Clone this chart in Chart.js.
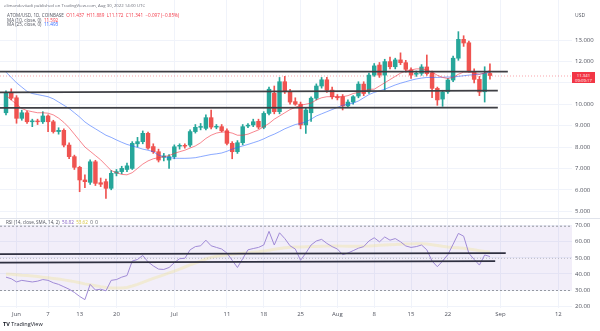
<!DOCTYPE html>
<html>
<head>
<meta charset="utf-8">
<script src="https://cdn.jsdelivr.net/npm/chart.js@4.4.0/dist/chart.umd.min.js"></script>
<style>
  body { margin: 0; width: 600px; height: 331px; background: #fff; overflow: hidden; position: relative; font-family: "Open Sans", Roboto, sans-serif; }
  canvas { position: absolute; left: 0; }
  #main { top: 0; }
  #rsi { top: 218px; }
  .t { position: absolute; white-space: nowrap; color: #50535e; line-height: 1; }
  .red { color: #f23645; }
  .blue { color: #2962ff; }
  #tag { position: absolute; left: 572px; top: 72px; width: 23px; height: 11px; background: #f23645; color: #fff; font-size: 4.3px; line-height: 5px; text-align: center; padding-top: 0.5px; box-sizing: border-box; }
</style>
</head>
<body>
<canvas id="main" width="600" height="218"></canvas>
<canvas id="rsi" width="600" height="113"></canvas>

<div class="t" style="left:4px;top:3px;font-size:4.3px;color:#6a6d78">elimandeviiadi published on TradingView.com, Aug 30, 2022 14:00 UTC</div>
<div class="t" style="left:7px;top:12.5px;font-size:4.6px">ATOM/USD, 1D, COINBASE&nbsp; <span class="red">O11.437&nbsp; H11.889&nbsp; L11.172&nbsp; C11.341&nbsp; −0.097 (−0.85%)</span></div>
<div class="t" style="left:7px;top:17.8px;font-size:4.6px">MA (10, close, 0)&nbsp; <span class="red">11.592</span></div>
<div class="t" style="left:7px;top:22.4px;font-size:4.6px">MA (25, close, 0)&nbsp; <span class="blue">11.493</span></div>
<div class="t" style="left:575px;top:12.5px;font-size:5px">USD</div>
<div id="tag">11.341<br>09:09:17</div>
<div class="t" style="left:6px;top:219.5px;font-size:4.6px">RSI (14, close, SMA, 14, 2)&nbsp; <span style="color:#7e57c2">50.82</span>&nbsp; <span style="color:#d6c23a">53.62</span>&nbsp; 0&nbsp; 0</div>
<div class="t" style="left:3px;top:322px;font-size:5.5px;color:#131722"><b>TV</b> TradingView</div>

<script>
const open = [9.60, 10.51, 10.30, 9.34, 9.60, 9.18, 9.20, 9.18, 9.45, 9.18,
  8.72, 8.78, 8.09, 7.55, 7.05, 6.46, 6.35, 7.31, 6.33, 6.38,
  6.07, 6.77, 6.85, 6.95, 7.00, 8.15, 8.25, 8.64, 8.02, 7.78,
  7.52, 7.39, 7.55, 8.04, 8.07, 8.09, 8.72, 8.92, 8.87, 9.37,
  8.93, 8.95, 8.76, 8.17, 7.78, 8.20, 8.98, 9.03, 9.20, 8.92,
  9.57, 10.51, 9.65, 11.05, 10.58, 10.12, 10.00, 9.03, 9.60, 10.28,
  10.85, 11.14, 10.66, 10.35, 10.35, 9.92, 10.10, 10.38, 10.94, 10.58,
  11.36, 11.83, 11.36, 11.99, 11.75, 12.07, 11.94, 11.60, 11.40, 11.44,
  11.74, 11.47, 10.74, 10.24, 10.58, 11.13, 12.15, 13.03, 12.87, 11.52,
  11.16, 10.58, 11.437];
const high = [10.62, 10.72, 10.40, 9.72, 9.68, 9.30, 9.30, 9.65, 9.50, 9.25,
  8.90, 8.85, 8.20, 7.62, 7.10, 6.70, 7.40, 7.38, 6.55, 6.50,
  6.90, 6.95, 7.10, 7.25, 8.25, 8.45, 8.75, 8.70, 8.15, 7.90,
  7.70, 7.65, 8.10, 8.15, 8.15, 8.80, 9.05, 9.10, 9.50, 9.73,
  9.05, 9.05, 8.85, 8.25, 8.30, 9.05, 9.10, 9.30, 9.30, 9.65,
  10.80, 10.85, 11.25, 11.30, 10.70, 10.30, 10.10, 9.85, 10.35, 10.95,
  11.25, 11.25, 10.80, 10.45, 10.45, 10.20, 10.40, 11.05, 11.05, 11.45,
  11.90, 11.95, 12.10, 12.20, 12.15, 12.40, 12.05, 11.70, 11.55, 11.85,
  12.30, 11.55, 10.80, 10.65, 11.20, 12.25, 13.39, 13.20, 12.95, 11.65,
  11.30, 11.75, 11.889];
const low = [9.50, 10.20, 9.11, 9.25, 9.10, 8.95, 9.05, 9.10, 8.72, 8.65,
  8.60, 8.00, 7.45, 6.95, 5.91, 6.10, 6.25, 6.20, 6.15, 5.60,
  6.00, 6.65, 6.75, 6.85, 6.95, 8.00, 8.15, 7.90, 7.70, 7.30,
  7.35, 7.00, 7.45, 7.90, 7.95, 8.00, 8.65, 8.80, 8.80, 8.85,
  8.85, 8.70, 8.10, 7.45, 7.70, 8.10, 8.90, 8.95, 8.85, 8.85,
  9.50, 9.55, 9.55, 10.50, 10.00, 9.95, 8.85, 8.64, 9.20, 10.20,
  10.75, 10.55, 10.25, 10.20, 9.73, 9.85, 10.00, 10.30, 10.40, 10.50,
  11.30, 11.25, 10.66, 11.65, 11.65, 11.85, 11.50, 11.20, 11.30, 11.35,
  11.35, 10.30, 9.95, 9.90, 10.50, 11.05, 12.05, 12.70, 11.50, 11.00,
  10.40, 10.10, 11.172];
const close = [10.54, 10.28, 9.34, 9.60, 9.18, 9.22, 9.18, 9.45, 9.18, 8.72,
  8.78, 8.09, 7.55, 7.05, 6.46, 6.38, 7.31, 6.30, 6.26, 6.07,
  6.77, 6.85, 7.00, 7.12, 8.17, 8.25, 8.64, 7.95, 7.78, 7.39,
  7.58, 7.55, 8.01, 8.07, 8.04, 8.72, 8.92, 8.96, 9.37, 8.93,
  8.96, 8.76, 8.17, 7.78, 8.20, 8.95, 9.02, 9.18, 8.93, 9.57,
  10.70, 9.65, 11.05, 10.58, 10.10, 10.00, 9.03, 9.73, 10.28, 10.85,
  11.14, 10.65, 10.35, 10.30, 9.92, 10.10, 10.35, 10.94, 10.50, 11.36,
  11.79, 11.36, 11.99, 11.75, 12.07, 11.94, 11.63, 11.36, 11.45, 11.74,
  11.43, 10.74, 10.20, 10.57, 11.13, 12.15, 13.03, 12.86, 11.57, 11.16,
  10.57, 11.44, 11.341];
const ma10 = [10.40, 10.20, 10.00, 9.80, 9.70, 9.65, 9.60, 9.60, 9.58, 9.50,
  9.35, 9.15, 8.90, 8.60, 8.30, 8.00, 7.80, 7.60, 7.40, 7.15,
  6.90, 6.80, 6.72, 6.70, 6.80, 7.00, 7.20, 7.35, 7.45, 7.50,
  7.55, 7.60, 7.70, 7.78, 7.85, 7.95, 8.05, 8.20, 8.40, 8.55,
  8.65, 8.70, 8.70, 8.65, 8.55, 8.55, 8.60, 8.70, 8.80, 8.95,
  9.10, 9.30, 9.45, 9.60, 9.75, 9.85, 9.95, 10.00, 10.05, 10.20,
  10.30, 10.35, 10.35, 10.35, 10.35, 10.40, 10.50, 10.55, 10.60, 10.70,
  10.70, 10.85, 11.00, 11.15, 11.30, 11.45, 11.55, 11.60, 11.65, 11.65,
  11.60, 11.50, 11.35, 11.25, 11.20, 11.25, 11.40, 11.50, 11.50, 11.45,
  11.40, 11.45, 11.59];
const ma25 = [11.50, 11.25, 11.00, 10.80, 10.60, 10.50, 10.45, 10.40, 10.35, 10.25,
  10.10, 9.95, 9.80, 9.60, 9.40, 9.17, 9.00, 8.85, 8.70, 8.55,
  8.45, 8.33, 8.22, 8.12, 8.05, 7.98, 7.90, 7.85, 7.78, 7.62,
  7.55, 7.50, 7.48, 7.47, 7.47, 7.48, 7.50, 7.55, 7.60, 7.65,
  7.68, 7.72, 7.80, 7.90, 7.98, 8.05, 8.12, 8.20, 8.28, 8.38,
  8.50, 8.60, 8.72, 8.85, 8.95, 9.05, 9.10, 9.17, 9.30, 9.45,
  9.55, 9.65, 9.75, 9.85, 9.95, 10.00, 10.05, 10.15, 10.30, 10.45,
  10.55, 10.62, 10.70, 10.80, 10.90, 10.98, 11.05, 11.12, 11.18, 11.22,
  11.25, 11.25, 11.25, 11.26, 11.27, 11.27, 11.30, 11.33, 11.36, 11.38,
  11.40, 11.45, 11.49];
const rsi = [38, 37, 35, 36, 35.5, 35, 35.5, 36.5, 36, 34.5,
  33.5, 32, 30.5, 28.5, 26, 24, 33.5, 30, 30.5, 29.5,
  36, 36.5, 38, 39, 48, 49, 51.5, 47.5, 45, 43,
  42.8, 44, 47, 49.5, 49.7, 55, 57, 57.5, 61, 57.5,
  56.5, 55.5, 53, 48.5, 44, 49.5, 55, 55.8, 56.5, 58,
  66.5, 58, 65.6, 62, 57.5, 55.5, 48.5, 53, 58, 60.5,
  61.5, 59, 57, 55.5, 52, 53, 54.5, 56, 57, 60.5,
  62.5, 60, 63, 61, 62, 60, 57.4, 56.5, 57, 58,
  55, 48, 44.5, 48, 52, 58.5, 65.2, 63.5, 52.8, 49,
  45.5, 51.8, 50.82];
const rsiMa = [40, 39.8, 39.5, 39.2, 39, 38.7, 38.4, 38, 37.6, 37.2,
  36.8, 36.3, 35.8, 35.2, 34.5, 33.8, 33.3, 32.7, 32.1, 31.6,
  31.3, 31.2, 31.3, 31.6, 32.5, 33.5, 34.8, 36, 37.2, 38.3,
  39.4, 40.6, 41.8, 43, 44.3, 45.6, 46.8, 48, 49.3, 50.3,
  51, 51.5, 52, 52.3, 52.5, 52.8, 53.2, 53.5, 53.8, 54.2,
  54.8, 55.3, 55.8, 56.3, 56.6, 56.8, 56.8, 56.9, 57, 57.1,
  57.2, 57.3, 57.4, 57.4, 57.3, 57.2, 57.2, 57.2, 57.3, 57.4,
  57.6, 57.8, 58, 58.2, 58.3, 58.5, 58.6, 58.7, 58.8, 58.8,
  58.6, 58.2, 57.7, 57.2, 56.8, 56.5, 56.3, 56, 55.5, 55,
  54.5, 54, 53.6];

// day offsets from May 30 and their labels
const tickDays = [2, 8, 14, 21, 32, 42, 49, 56, 63, 70, 77, 84, 94, 105];
const tickLabels = ["Jun", "7", "13", "20", "Jul", "11", "18", "25", "Aug", "8", "15", "22", "Sep", "12"];
const priceTicks = [5, 6, 7, 8, 9, 10, 11, 12, 13];
const priceLabels = [5, 6, 7, 8, 9, 10, 12, 13];
const rsiTicks = [20, 30, 40, 50, 60, 70];

// hand-drawn support / resistance lines: start value, end value, end day
const levelFrom = [11.52, 10.55, 9.83];
const levelTo = [11.52, 10.63, 9.84];
const levelEnd = [95.4, 93.5, 93.5];
const rsiLevelFrom = [52.3, 47.0];
const rsiLevelTo = [52.9, 48.0];
const rsiLevelEnd = [95, 93];

const X_MIN = -1.14, X_MAX = 107.6;
const GREEN = "#26a69a", RED = "#ef5350";
const FONT = "'Open Sans', Roboto, sans-serif";

const idx = close.map((_, i) => i);
const up = i => close[i] >= open[i];
const candleColors = idx.map(i => up(i) ? GREEN : RED);

const xScale = showLabels => ({
  type: "linear", min: X_MIN, max: X_MAX, offset: false,
  afterBuildTicks: s => { s.ticks = tickDays.map(v => ({ value: v })); },
  afterFit: s => { s.height = showLabels ? 23 : 0; },
  grid: { color: "#f0f3fa", drawTicks: false, offset: false },
  border: { display: false },
  ticks: {
    display: showLabels, autoSkip: false, maxRotation: 0, padding: 3,
    color: "#50535e", font: { family: FONT, size: 6 },
    callback: v => tickLabels[tickDays.indexOf(v)] ?? ""
  }
});

const yScale = (min, max, ticks) => ({
  position: "right", min, max,
  afterBuildTicks: s => { s.ticks = ticks.map(v => ({ value: v })); },
  afterFit: s => { s.width = 28; },
  grid: { color: "#f0f3fa", drawTicks: false },
  border: { display: false },
  ticks: { display: false }
});

// right side value labels
const axisLabels = (values, digits) => ({
  id: "axisLabels",
  afterDraw(chart) {
    const { ctx } = chart, y = chart.scales.y;
    ctx.save();
    ctx.font = `6px ${FONT}`;
    ctx.fillStyle = "#50535e";
    ctx.textBaseline = "middle";
    values.forEach(v => ctx.fillText(v.toFixed(digits), 575, y.getPixelForValue(v)));
    ctx.restore();
  }
});

const priceLine = {
  id: "priceLine",
  beforeDatasetsDraw(chart) {
    const { ctx, chartArea: a } = chart, y = chart.scales.y.getPixelForValue(close[close.length - 1]);
    ctx.save();
    ctx.strokeStyle = "rgba(242,54,69,0.45)";
    ctx.setLineDash([1, 2]);
    ctx.lineWidth = 1;
    ctx.beginPath(); ctx.moveTo(a.left, y + 0.5); ctx.lineTo(a.right, y + 0.5); ctx.stroke();
    ctx.restore();
  }
};

const rsiBand = {
  id: "rsiBand",
  beforeDatasetsDraw(chart) {
    const { ctx, chartArea: a } = chart, y = chart.scales.y;
    const y70 = y.getPixelForValue(70), y30 = y.getPixelForValue(30), y50 = y.getPixelForValue(50);
    ctx.save();
    ctx.fillStyle = "rgba(126,87,194,0.1)";
    ctx.fillRect(a.left, y70, a.right - a.left, y30 - y70);
    ctx.strokeStyle = "#9598a1";
    ctx.lineWidth = 1;
    ctx.setLineDash([2, 2]);
    [y70, y30].forEach(p => { ctx.beginPath(); ctx.moveTo(a.left, p + 0.5); ctx.lineTo(a.right, p + 0.5); ctx.stroke(); });
    ctx.strokeStyle = "rgba(149,152,161,0.6)";
    ctx.setLineDash([1, 2]);
    ctx.beginPath(); ctx.moveTo(a.left, y50 + 0.5); ctx.lineTo(a.right, y50 + 0.5); ctx.stroke();
    ctx.setLineDash([]);
    ctx.strokeStyle = "#e0e3eb";
    ctx.beginPath(); ctx.moveTo(0, 0.5); ctx.lineTo(chart.width, 0.5); ctx.stroke();
    ctx.restore();
  }
};

const line = (data, color, width, order) => ({
  type: "line", data, borderColor: color, borderWidth: width,
  pointRadius: 0, tension: 0, fill: false, order
});

const common = {
  responsive: false, animation: false, events: [],
  layout: { padding: 0 },
  plugins: { legend: { display: false }, tooltip: { enabled: false } }
};

new Chart(document.getElementById("main"), {
  type: "bar",
  data: {
    datasets: [
      { type: "bar", data: idx.map(i => ({ x: i, y: [low[i], high[i]] })), backgroundColor: candleColors, barThickness: 1, grouped: false, order: 4 },
      { type: "bar", data: idx.map(i => ({ x: i, y: [open[i], close[i]] })), backgroundColor: candleColors, barThickness: 3.8, minBarLength: 0.8, grouped: false, order: 3 },
      line(idx.map(i => ({ x: i, y: ma25[i] })), "rgba(41,98,255,0.55)", 1, 2),
      line(idx.map(i => ({ x: i, y: ma10[i] })), "rgba(242,54,69,0.6)", 1, 1),
      ...levelFrom.map((v, k) => line([{ x: X_MIN, y: v }, { x: levelEnd[k], y: levelTo[k] }], "#3e3f44", 1.7, 0))
    ]
  },
  options: {
    ...common,
    scales: {
      x: xScale(false),
      y: yScale(13 - (218 - 40) / 21.4, 13 + 40 / 21.4, priceTicks)
    }
  },
  plugins: [axisLabels(priceLabels, 3), priceLine]
});

new Chart(document.getElementById("rsi"), {
  type: "line",
  data: {
    datasets: [
      line(idx.map(i => ({ x: i, y: rsiMa[i] })), "rgba(240,226,130,0.3)", 3, 2),
      line(idx.map(i => ({ x: i, y: rsi[i] })), "#a08ad6", 1, 1),
      ...rsiLevelFrom.map((v, k) => line([{ x: X_MIN, y: v }, { x: rsiLevelEnd[k], y: rsiLevelTo[k] }], "#2f3040", 1.7, 0))
    ]
  },
  options: {
    ...common,
    scales: {
      x: xScale(true),
      y: yScale(18.8, 74.8, rsiTicks)
    }
  },
  plugins: [axisLabels(rsiTicks, 2), rsiBand]
});
</script>
</body>
</html>
